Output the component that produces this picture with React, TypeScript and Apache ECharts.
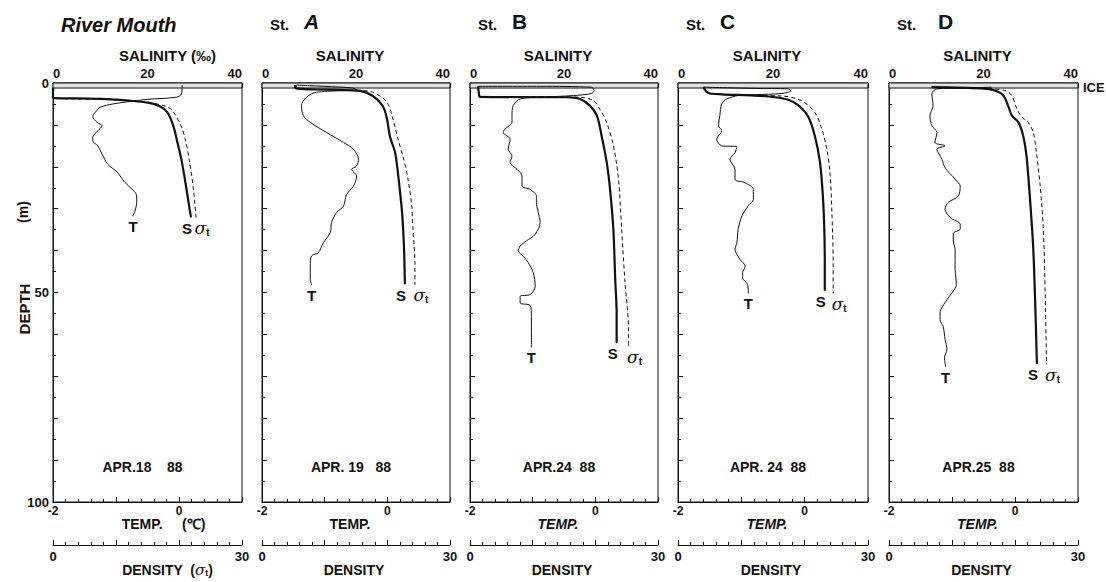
import React, { useEffect, useRef } from 'react';
import * as echarts from 'echarts';

// ---------- data (value, depth in m) ----------
const stations = ['River Mouth', 'A', 'B', 'C', 'D'];
const dates = ['APR.18    88', 'APR. 19   88', 'APR.24  88', 'APR. 24  88', 'APR.25  88'];
const salinityTickLabels = [0, 20, 40];
const tempTickLabels = [-2, 0];
const densityTickLabels = [0, 30];
const depthTickLabels = [0, 50, 100];
const iceDepth = 1.2;

const rmTemp = [[0.05,0.5],[0.04,2.6],[-0.04,3.4],[-0.5,3.9],[-1.05,5.0],[-1.25,5.8],[-1.33,7.0],[-1.37,8.0],[-1.30,9.4],[-1.22,10.2],[-1.29,11.4],[-1.37,13.0],[-1.37,13.8],[-1.29,15.0],[-1.22,17.0],[-1.13,19.4],[-0.98,21.3],[-0.86,23.7],[-0.75,25.3],[-0.68,26.5],[-0.67,28.4],[-0.70,30.6],[-0.73,31.7]];
const rmSal = [[0,1.2],[0,3.5],[0.3,3.6],[10,3.8],[17,4.3],[20,4.7],[22.5,5.5],[24.2,7],[25.4,10],[26.3,14],[27.3,19],[28.2,25],[28.9,30],[29.2,32]];
const rmDens = [[0,1.2],[0,3.5],[8,3.9],[13.5,4.4],[15.4,4.7],[17.8,5.5],[18.9,6.5],[20.2,9.8],[21.0,13.4],[21.7,19],[22.3,25.4],[22.7,32]];

const aTemp = [[-1.45,0.5],[-1.0,0.8],[-0.55,1.2],[-0.49,1.6],[-1.13,2.2],[-1.29,3.4],[-1.37,5.4],[-1.34,7.8],[-1.23,9.4],[-0.97,11.8],[-0.70,14.2],[-0.54,15.8],[-0.46,18.2],[-0.49,19.8],[-0.57,20.6],[-0.49,22.2],[-0.54,24.6],[-0.65,26.6],[-0.70,29.4],[-0.81,30.9],[-0.89,33.3],[-0.91,35.7],[-1.02,38.1],[-1.10,40.5],[-1.21,41.3],[-1.23,43.7],[-1.23,46.9],[-1.21,48.1]];
const aSal = [[7.0,0.5],[7.2,1.3],[14.5,1.6],[20.9,1.9],[23.6,3.1],[25.7,5.5],[26.6,8.6],[27.2,12.7],[28.3,16.5],[28.9,21.3],[29.8,30.9],[30.2,39],[30.4,48]];
const aDens = [[5.5,0.5],[5.6,1.3],[11.5,1.6],[16.0,1.8],[17.7,2.2],[19.9,4.5],[20.9,8.6],[21.7,13.4],[22.5,17.5],[23.3,23],[23.9,29.4],[24.1,35],[24.4,43],[24.4,48]];

const bTemp = [[-1.87,0.8],[-0.88,0.8],[-0.06,1.0],[-0.02,1.8],[-0.06,2.5],[-0.35,3.0],[-0.88,3.4],[-1.20,3.8],[-1.31,5.4],[-1.33,7.8],[-1.33,9.4],[-1.44,11],[-1.47,11.8],[-1.36,13.4],[-1.39,15.8],[-1.33,17.4],[-1.36,19],[-1.25,20.6],[-1.17,22.2],[-1.17,24.6],[-1.04,25.4],[-0.94,27],[-0.94,28.5],[-0.91,30.9],[-0.88,33.3],[-0.96,36.1],[-1.10,37.7],[-1.20,38.9],[-1.23,40.1],[-1.15,41.3],[-1.07,42.9],[-0.99,45.3],[-0.96,48.5],[-1.04,50.5],[-1.20,50.9],[-1.20,52.5],[-1.04,53.1],[-1.02,55.7],[-1.02,60.4],[-1.02,63.0]];
const bSal = [[1.7,0.8],[1.9,2.5],[2.1,3.3],[20.6,3.4],[23.4,3.8],[25.5,5.4],[27.0,7.8],[28.0,12.6],[29.1,19],[29.8,25.4],[30.5,34.9],[30.9,46.9],[31.2,54.9],[31.2,62.0]];
const bDens = [[1.3,0.8],[1.6,3.3],[15,3.35],[17.6,3.4],[19.7,4.2],[20.7,6.2],[21.8,9.4],[22.9,15],[23.7,23],[24.2,34.9],[24.7,46.9],[25.3,58.9],[25.3,62.7]];

const cTemp = [[-1.60,1.0],[-0.78,1.3],[-0.26,1.4],[-0.22,1.9],[-0.36,2.5],[-0.78,2.8],[-1.05,3.0],[-1.23,3.8],[-1.31,5.0],[-1.34,7.8],[-1.36,10.2],[-1.31,11.4],[-1.39,13.4],[-1.31,15],[-1.07,15.2],[-1.10,16.6],[-1.18,18.2],[-1.10,20.6],[-1.10,23],[-0.94,23.8],[-0.81,25.4],[-0.81,27.8],[-0.89,29.3],[-0.99,31.7],[-1.05,34.9],[-1.07,38.1],[-1.10,39.7],[-1.02,42.1],[-0.94,43.7],[-0.98,45.3],[-0.98,46.5],[-0.90,48.1],[-0.89,50.1]];
const cSal = [[5.3,1.0],[6.4,2.4],[9.2,2.7],[16.2,3.0],[20.4,3.4],[23.2,4.0],[25.3,5.3],[27.4,8.0],[28.8,12.6],[29.9,19],[30.5,27],[30.8,34.9],[30.9,42.9],[30.9,49.5]];
const cDens = [[4.0,1.0],[4.8,2.4],[7.0,2.7],[12.2,3.0],[16.4,3.1],[19.5,4.2],[21.6,7.0],[22.7,11],[23.5,15.8],[24.0,21.4],[24.3,30.9],[24.5,42.9],[24.5,50.1]];

const dTemp = [[-0.37,1.0],[-0.79,1.2],[-1.24,1.4],[-1.32,2.6],[-1.30,5.4],[-1.35,7.8],[-1.32,10.2],[-1.24,11.8],[-1.27,14.2],[-1.11,15],[-1.24,15.8],[-1.16,18.2],[-1.11,20.2],[-0.95,23],[-0.87,24.6],[-0.90,27],[-1.06,28.5],[-1.11,30.1],[-1.03,32.1],[-0.87,33.7],[-0.87,34.9],[-0.98,35.9],[-0.98,37.7],[-0.95,39.7],[-0.95,44.5],[-0.93,48.1],[-1.00,50.1],[-1.08,51.7],[-1.19,54.9],[-1.19,56.5],[-1.14,58.1],[-1.11,61.2],[-1.08,63.6],[-1.12,65.6],[-1.10,67.6]];
const dSal = [[9.0,1.0],[19.6,1.3],[22.4,1.8],[24.2,3.0],[25.2,5.4],[26.0,7.8],[27.4,9.4],[28.4,12.6],[29.1,17.4],[29.8,27],[30.5,38.9],[30.9,50.9],[31.3,67]];
const dDens = [[15.8,1.3],[18.4,1.8],[19.5,3.0],[20.3,6.2],[21.1,8.2],[22.1,9.4],[22.9,11.8],[23.4,16.6],[24.0,24.6],[24.5,34.9],[24.8,50.9],[25.0,67]];

const temps = [rmTemp, aTemp, bTemp, cTemp, dTemp];
const sals = [rmSal, aSal, bSal, cSal, dSal];
const denss = [rmDens, aDens, bDens, cDens, dDens];

// ---------- layout ----------
const LEFTS = [53, 262, 470, 678, 889];
const WIDTHS = [189, 188, 188, 190, 189];
const TOP = 83;
const HEIGHT = 419;
const FONT = '"Liberation Sans", Arial, Helvetica, sans-serif';
const INK = '#111';

function endLabeled(data: number[][], text: string, label: any) {
  return data.map((p, i) =>
    i === data.length - 1
      ? { value: p, symbol: 'circle', symbolSize: 1, label: { show: true, position: 'bottom', distance: 3, formatter: text, color: INK, fontFamily: FONT, fontWeight: 'bold', fontSize: 15, ...label } }
      : { value: p }
  );
}

const sigmaRich = {
  s: { fontSize: 17, fontStyle: 'italic', fontWeight: 'normal', fontFamily: '"DejaVu Serif", serif', color: INK },
  t: { fontSize: 10, fontWeight: 'bold', fontFamily: FONT, color: INK, padding: [9, 0, 0, 0] },
};

function buildOption() {
  const grid: any[] = [];
  const xAxis: any[] = [];
  const yAxis: any[] = [];
  const series: any[] = [];
  const graphic: any[] = [];
  const tick = { show: true, inside: true, length: 5, lineStyle: { color: INK, width: 1 } };
  const lab = { color: INK, fontFamily: FONT, fontWeight: 'bold', fontSize: 13 };
  const nameStyle = { color: INK, fontFamily: FONT, fontWeight: 'bold', fontSize: 15 };
  const densName = { color: INK, fontFamily: FONT, fontWeight: 'bold', fontSize: 14, lineHeight: 16 };

  stations.forEach((st, i) => {
    const L = LEFTS[i];
    const W = WIDTHS[i];
    grid.push({ left: L, top: TOP, width: W, height: HEIGHT, show: true, borderColor: INK, borderWidth: 1, backgroundColor: 'transparent', outerBoundsMode: 'none', containLabel: false });

    xAxis.push({
      gridIndex: i, type: 'value', position: 'top', min: 0, max: 40, interval: 10,
      axisLine: { show: true, lineStyle: { color: INK } }, axisTick: tick,
      minorTick: { show: true, splitNumber: 5, length: 3, lineStyle: { color: INK } },
      splitLine: { show: false },
      axisLabel: { ...lab, margin: 3, alignMinLabel: 'left', alignMaxLabel: 'right', formatter: (v: number) => (salinityTickLabels.includes(v) ? String(v) : '') },
      name: i === 0 ? 'SALINITY (‰)' : 'SALINITY', nameLocation: 'middle', nameGap: 20, nameMoveOverlap: false,
      nameTextStyle: { ...nameStyle, padding: i === 0 ? [0, 0, 0, 40] : [0, 12, 0, 0] },
    });
    xAxis.push({
      gridIndex: i, type: 'value', position: 'bottom', min: -2, max: 1, interval: 1,
      axisLine: { show: true, lineStyle: { color: INK } }, axisTick: tick,
      minorTick: { show: true, splitNumber: 5, length: 3, lineStyle: { color: INK } },
      splitLine: { show: false },
      axisLabel: { ...lab, fontSize: 12, margin: 3, formatter: (v: number) => (tempTickLabels.includes(v) ? String(v) : '') },
      name: i === 0 ? 'TEMP.     (℃)' : 'TEMP.', nameLocation: 'middle', nameGap: 15, nameMoveOverlap: false,
      nameTextStyle: { ...nameStyle, fontSize: 14, fontStyle: i >= 2 ? 'italic' : 'normal', padding: i === 0 ? [0, 0, 0, 32] : [0, 12, 0, 0] },
    });
    xAxis.push({
      gridIndex: i, type: 'value', position: 'bottom', offset: 43, min: 0, max: 30, interval: 10,
      axisLine: { show: true, lineStyle: { color: INK } }, axisTick: tick,
      minorTick: { show: true, splitNumber: 5, length: 3, lineStyle: { color: INK } },
      splitLine: { show: false },
      axisLabel: { ...lab, margin: 5, formatter: (v: number) => (densityTickLabels.includes(v) ? String(v) : '') },
      name: i === 0 ? '{n|DENSITY  (}{s|σ}{t|t}{n|)}' : 'DENSITY', nameLocation: 'middle', nameGap: 17, nameMoveOverlap: false,
      nameTextStyle: {
        ...densName, padding: i === 0 ? [0, 0, 0, 40] : [0, 4, 0, 0],
        rich: { n: densName, s: { ...sigmaRich.s, fontSize: 15, lineHeight: 16 }, t: { ...sigmaRich.t, fontSize: 9, padding: [6, 0, 0, 0] } },
      },
    });
    yAxis.push({
      gridIndex: i, type: 'value', inverse: true, min: 0, max: 100, interval: 10,
      axisLine: { show: true, lineStyle: { color: INK } }, axisTick: tick,
      minorTick: { show: true, splitNumber: 2, length: 3, lineStyle: { color: INK } },
      splitLine: { show: false },
      axisLabel: { ...lab, show: i === 0, margin: 4, formatter: (v: number) => (depthTickLabels.includes(v) ? String(v) : '') },
    });

    series.push({
      type: 'line', xAxisIndex: 3 * i + 1, yAxisIndex: i, smooth: 0.3, showSymbol: true, symbol: 'none', silent: true,
      lineStyle: { color: INK, width: 1 }, itemStyle: { color: INK },
      data: endLabeled(temps[i], 'T', {}),
    });
    series.push({
      type: 'line', xAxisIndex: 3 * i, yAxisIndex: i, smooth: 0.3, showSymbol: true, symbol: 'none', silent: true,
      lineStyle: { color: INK, width: 2.2 }, itemStyle: { color: INK },
      data: endLabeled(sals[i], 'S', { offset: [-4, 0] }),
      markArea: { silent: true, itemStyle: { color: '#e2e2e2', borderColor: INK, borderWidth: 1 }, data: [[{ yAxis: 0 }, { yAxis: iceDepth }]] },
    });
    series.push({
      type: 'line', xAxisIndex: 3 * i + 2, yAxisIndex: i, smooth: 0.3, showSymbol: true, symbol: 'none', silent: true,
      lineStyle: { color: INK, width: 1, type: [4, 3] }, itemStyle: { color: INK },
      data: endLabeled(denss[i], '{s|σ}{t|t}', { offset: [6, -2], rich: sigmaRich }),
    });

    // titles and dates
    if (i === 0) {
      graphic.push({ type: 'text', x: L + 8, y: 25, style: { text: st, fill: INK, font: `italic bold 20px ${FONT}`, align: 'left', verticalAlign: 'middle', textAlign: 'left', textVerticalAlign: 'middle' } });
    } else {
      graphic.push({ type: 'text', x: L + 8, y: 24, style: { text: 'St.', fill: INK, font: `bold 15px ${FONT}`, align: 'left', verticalAlign: 'middle', textAlign: 'left', textVerticalAlign: 'middle' } });
      graphic.push({ type: 'text', x: L + (i === 4 ? 49 : 42), y: 21, style: { text: st, fill: INK, font: `${i === 1 ? 'italic ' : ''}bold 21px ${FONT}`, align: 'left', verticalAlign: 'middle', textAlign: 'left', textVerticalAlign: 'middle' } });
    }
    graphic.push({ type: 'text', x: L + W / 2 - 5, y: 467, style: { text: dates[i], fill: INK, font: `bold 14px ${FONT}`, align: 'center', verticalAlign: 'middle', textAlign: 'center', textVerticalAlign: 'middle' } });
  });

  graphic.push({ type: 'text', x: 24, y: 309, rotation: Math.PI / 2, style: { text: 'DEPTH', fill: INK, font: `bold 15px ${FONT}`, align: 'center', verticalAlign: 'middle', textAlign: 'center', textVerticalAlign: 'middle' } });
  graphic.push({ type: 'text', x: 23, y: 212, rotation: Math.PI / 2, style: { text: '(m)', fill: INK, font: `bold 14px ${FONT}`, align: 'center', verticalAlign: 'middle', textAlign: 'center', textVerticalAlign: 'middle' } });
  graphic.push({ type: 'text', x: LEFTS[4] + WIDTHS[4] + 5, y: 87, style: { text: 'ICE', fill: INK, font: `bold 13px ${FONT}`, align: 'left', verticalAlign: 'middle', textAlign: 'left', textVerticalAlign: 'middle' } });

  return { animation: false, backgroundColor: '#fff', grid, xAxis, yAxis, series, graphic };
}

export default function App() {
  const ref = useRef<HTMLDivElement>(null);
  useEffect(() => {
    if (!ref.current) return;
    const chart = echarts.init(ref.current, undefined, { renderer: 'svg' });
    chart.setOption(buildOption() as any);
    return () => chart.dispose();
  }, []);
  return <div ref={ref} style={{ position: 'absolute', left: 0, top: 0, width: 1106, height: 582, background: '#fff' }} />;
}
